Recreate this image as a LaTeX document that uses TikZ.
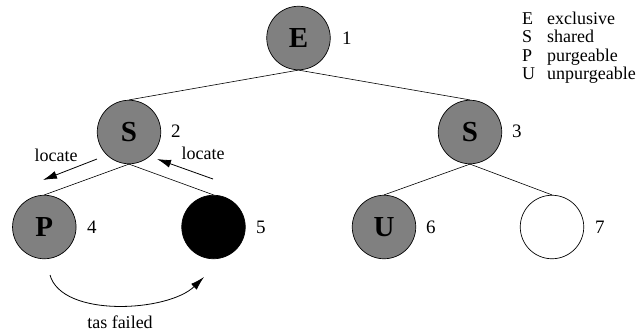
\documentclass[tikz,border=0pt]{standalone}
\usepackage{fontspec}
\setmainfont{Liberation Serif}
\usetikzlibrary{arrows.meta}
\begin{document}
\begin{tikzpicture}[x=1pt,y=-1pt,
  tnode/.style={circle,draw,line width=0.7pt,minimum size=63.5pt,inner sep=0pt,font=\fontsize{29}{29}\selectfont\bfseries},
  grayn/.style={tnode,fill=gray},
  num/.style={font=\fontsize{19}{19}\selectfont,anchor=west,inner sep=0pt},
  small/.style={font=\fontsize{18}{18}\selectfont,inner sep=0pt},
  leg/.style={small,anchor=base west},
  edge/.style={line width=0.6pt},
  arr/.style={line width=0.8pt,-{Latex[length=14pt,width=8pt]}}]
\useasboundingbox (0,0) rectangle (640,333);
\node[grayn] (n1) at (298.5,38) {E};
\node[grayn] (n2) at (129,132) {S};
\node[grayn] (n3) at (470,132) {S};
\node[grayn] (n4) at (44.3,227) {P};
\node[tnode,fill=black] (n5) at (213.5,227) {};
\node[grayn] (n6) at (384,227) {U};
\node[tnode,fill=white] (n7) at (552,227) {};
\node[num] (l1) at (342,38) {1};
\node[num] (l2) at (171,131) {2};
\node[num] (l3) at (512,131) {3};
\node[num] (l4) at (87,227) {4};
\node[num] (l5) at (256,227) {5};
\node[num] (l6) at (426,227) {6};
\node[num] (l7) at (595,227) {7};
\draw[edge] (n1.south) -- (n2.north);
\draw[edge] (n1.south) -- (n3.north);
\draw[edge] (n2.south) -- (n4.north);
\draw[edge] (n2.south) -- (n5.north);
\draw[edge] (n3.south) -- (n6.north);
\draw[edge] (n3.south) -- (n7.north);
\coordinate (a1s) at (97,159);
\coordinate (a1e) at (43,180);
\coordinate (a2s) at (213,179);
\coordinate (a2e) at (157,159);
\draw[arr] (a1s) -- (a1e);
\draw[arr] (a2s) -- (a2e);
\node[small] (loc1) at (56,155) {locate};
\node[small] (loc2) at (203,153) {locate};
\coordinate (c1) at (50,275);
\coordinate (c2) at (204,277);
\draw[arr] (c1) .. controls (62,318) and (168,312) .. (c2);
\node[small] (tas) at (120,322) {tas failed};
\node[leg] (k1) at (522,24) {E};
\node[leg] (w1) at (547,24) {exclusive};
\node[leg] (k2) at (522,42.5) {S};
\node[leg] (w2) at (547,42.5) {shared};
\node[leg] (k3) at (522,61) {P};
\node[leg] (w3) at (547,61) {purgeable};
\node[leg] (k4) at (522,79.5) {U};
\node[leg] (w4) at (547,79.5) {unpurgeable};
\end{tikzpicture}
\end{document}
